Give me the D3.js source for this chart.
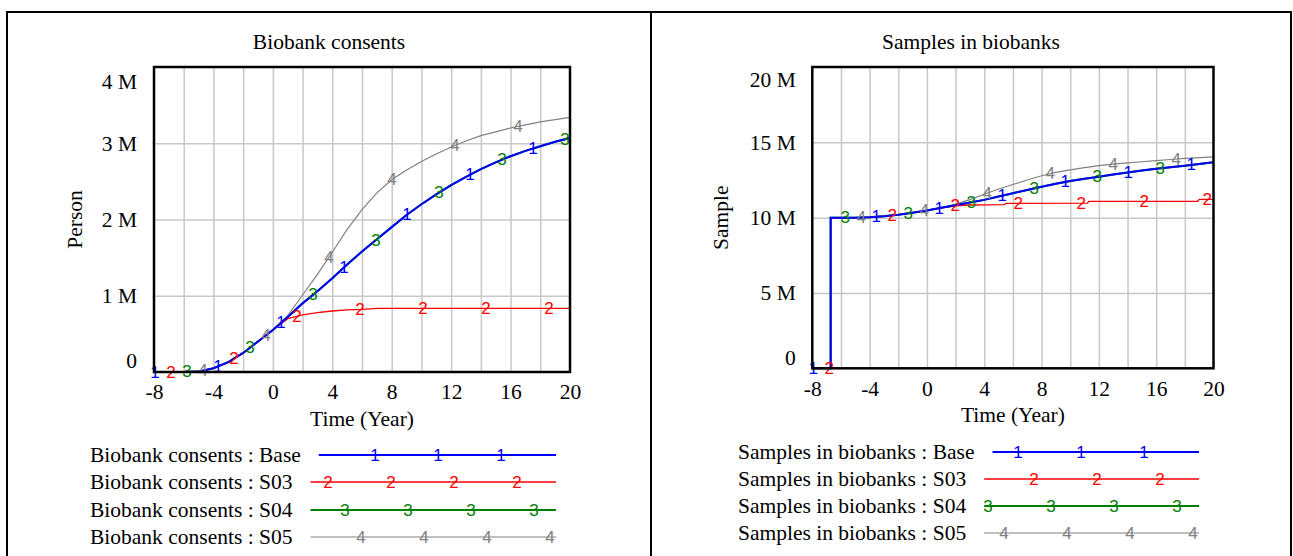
<!DOCTYPE html>
<html>
<head>
<meta charset="utf-8">
<script src="https://cdn.jsdelivr.net/npm/d3@7"></script>
<style>
  body { margin: 0; background: #fff; }
  svg text { font-family: "Liberation Serif", "Times New Roman", serif; fill: #000; }
  svg text.mark { font-family: "Liberation Sans", Arial, sans-serif; }
</style>
</head>
<body>
<svg id="chart" width="1293" height="556"></svg>
<script>
// ---- data (millions) ----
var seriesNames = ["Base", "S03", "S04", "S05"];
var xTicks = [-8, -4, 0, 4, 8, 12, 16, 20];
var xGrid = [-6, -4, -2, 0, 2, 4, 6, 8, 10, 12, 14, 16, 18];

var consentTicks = [0, 1, 2, 3, 4];
var consentTickLabels = ["0", "1 M", "2 M", "3 M", "4 M"];
var consentTime = [-8, -7, -6, -5, -4, -3, -2, -1, 0, 1, 2, 3, 4, 5, 6, 7, 8, 9, 10, 11, 12, 13, 14, 15, 16, 17, 18, 19, 20];
var consentBase = [0, 0, 0, 0.005, 0.05, 0.13, 0.25, 0.40, 0.55, 0.72, 0.90, 1.06, 1.23, 1.41, 1.58, 1.74, 1.90, 2.06, 2.20, 2.33, 2.45, 2.56, 2.66, 2.75, 2.83, 2.90, 2.96, 3.02, 3.07];
var consentS03 = [0, 0, 0, 0.005, 0.05, 0.13, 0.25, 0.40, 0.55, 0.70, 0.75, 0.78, 0.80, 0.815, 0.82, 0.835, 0.835, 0.835, 0.835, 0.835, 0.835, 0.835, 0.835, 0.835, 0.835, 0.835, 0.835, 0.835, 0.835];
var consentS04 = [0, 0, 0, 0.005, 0.05, 0.13, 0.25, 0.40, 0.55, 0.72, 0.90, 1.06, 1.23, 1.41, 1.58, 1.74, 1.90, 2.06, 2.20, 2.33, 2.45, 2.56, 2.66, 2.75, 2.83, 2.90, 2.96, 3.02, 3.07];
var consentS05 = [0, 0, 0, 0.005, 0.05, 0.13, 0.25, 0.40, 0.55, 0.74, 1.01, 1.28, 1.57, 1.87, 2.13, 2.35, 2.52, 2.65, 2.76, 2.86, 2.95, 3.03, 3.10, 3.15, 3.20, 3.24, 3.28, 3.31, 3.34];

var sampleTicks = [0, 5, 10, 15, 20];
var sampleTickLabels = ["0", "5 M", "10 M", "15 M", "20 M"];
var sampleTime = [-8, -6.72, -6.72, -6, -5, -4, -3, -2, -1, 0, 1, 2, 3, 4, 5, 6, 7, 8, 9, 10, 11, 12, 13, 14, 15, 16, 17, 18, 19, 20];
var sampleBase = [0, 0, 10, 10, 10, 10.03, 10.1, 10.2, 10.33, 10.48, 10.65, 10.82, 11.0, 11.18, 11.4, 11.62, 11.84, 12.05, 12.25, 12.43, 12.58, 12.72, 12.86, 13.0, 13.13, 13.25, 13.35, 13.45, 13.56, 13.67];
var sampleS04 = [0, 0, 10, 10, 10, 10.03, 10.1, 10.2, 10.33, 10.48, 10.65, 10.82, 11.0, 11.18, 11.4, 11.62, 11.84, 12.05, 12.25, 12.43, 12.58, 12.72, 12.86, 13.0, 13.13, 13.25, 13.35, 13.45, 13.56, 13.67];
var sampleS05 = [0, 0, 10, 10, 10, 10.03, 10.1, 10.2, 10.33, 10.48, 10.65, 10.9, 11.2, 11.55, 11.9, 12.2, 12.5, 12.78, 13.0, 13.17, 13.32, 13.45, 13.55, 13.63, 13.71, 13.78, 13.86, 13.93, 13.99, 14.04];
var sampleS03Time = [-8, -6.72, -6.72, -6, -5, -4, -3, -2, -1, 0, 1, 2, 3, 5.4, 5.5, 11.2, 11.3, 18.9, 19.0, 20];
var sampleS03 = [0, 0, 10, 10, 10, 10.03, 10.1, 10.2, 10.33, 10.48, 10.65, 10.78, 10.84, 10.86, 10.95, 10.96, 11.08, 11.09, 11.21, 11.21];

// ---- styles ----
var colors = ["#0000ff", "#ff0000", "#008000", "#808080"];
var widths = [2, 1.3, 2, 1.2];
var markStep = 63, markShift = 16;
var legendOffsets = [55, 39, 22, 6];
var fontSize = "21.5px";

var svg = d3.select("#chart");

var panels = [
  {
    box: [7, 12, 651, 600], title: "Biobank consents", yTitle: "Person", yTitleX: 75,
    plot: [154, 67, 570, 372], yMax: 4, ticks: consentTicks, tickLabels: consentTickLabels,
    yPad: 17, topDy: 15, botDy: -11,
    series: [
      {time: consentTime, values: consentBase},
      {time: consentTime, values: consentS03},
      {time: consentTime, values: consentS04},
      {time: consentTime, values: consentS05}
    ],
    legendName: "Biobank consents", legendX: 90, legendRows: [455, 482, 510, 537], legendEnd: 556
  },
  {
    box: [651, 12, 1291, 600], title: "Samples in biobanks", yTitle: "Sample", yTitleX: 721,
    plot: [812.3, 67, 1213.5, 368.3], yMax: 20, ticks: sampleTicks, tickLabels: sampleTickLabels,
    yPad: 16.5, topDy: 13, botDy: -11,
    series: [
      {time: sampleTime, values: sampleBase},
      {time: sampleS03Time, values: sampleS03},
      {time: sampleTime, values: sampleS04},
      {time: sampleTime, values: sampleS05}
    ],
    legendName: "Samples in biobanks", legendX: 738, legendRows: [452, 479, 506, 533], legendEnd: 1199
  }
];

panels.forEach(drawPanel);

function valueAt(ts, vs, t) {
  for (var i = 0; i < ts.length - 1; i++) {
    if (ts[i + 1] > ts[i] && t >= ts[i] && t <= ts[i + 1]) {
      var f = (t - ts[i]) / (ts[i + 1] - ts[i]);
      return vs[i] + f * (vs[i + 1] - vs[i]);
    }
  }
  return vs[vs.length - 1];
}

function drawPanel(p) {
  var g = svg.append("g");
  var left = p.plot[0], top = p.plot[1], right = p.plot[2], bottom = p.plot[3];

  g.append("rect")
    .attr("x", p.box[0]).attr("y", p.box[1])
    .attr("width", p.box[2] - p.box[0]).attr("height", p.box[3] - p.box[1])
    .attr("fill", "none").attr("stroke", "#000").attr("stroke-width", 2);

  g.append("text")
    .attr("x", (p.box[0] + p.box[2]) / 2).attr("y", 42)
    .attr("text-anchor", "middle").attr("dominant-baseline", "central")
    .style("font-size", fontSize)
    .text(p.title);

  var x = d3.scaleLinear().domain([-8, 20]).range([left, right]);
  var y = d3.scaleLinear().domain([0, p.yMax]).range([bottom, top]);

  // grid
  var gx = g.append("g")
    .attr("transform", "translate(0," + bottom + ")")
    .call(d3.axisBottom(x).tickValues(xGrid).tickSize(-(bottom - top)).tickFormat(""));
  var gy = g.append("g")
    .attr("transform", "translate(" + left + ",0)")
    .call(d3.axisLeft(y).tickValues(p.ticks.slice(1, -1)).tickSize(-(right - left)).tickFormat(""));
  [gx, gy].forEach(function(a) {
    a.select(".domain").remove();
    a.selectAll("line").attr("stroke", "#c8c8c8").attr("stroke-width", 1.5);
  });

  // axis labels
  var ax = g.append("g")
    .attr("transform", "translate(0," + bottom + ")")
    .call(d3.axisBottom(x).tickValues(xTicks).tickSize(0).tickPadding(12).tickFormat(function(d) { return String(d); }));
  ax.select(".domain").remove();
  ax.selectAll("text").style("font-size", fontSize).style("font-family", "Liberation Serif");

  var ay = g.append("g")
    .attr("transform", "translate(" + left + ",0)")
    .call(d3.axisLeft(y).tickValues(p.ticks).tickSize(0).tickPadding(p.yPad)
      .tickFormat(function(d, i) { return p.tickLabels[i]; }));
  ay.select(".domain").remove();
  ay.selectAll("text").style("font-size", fontSize).style("font-family", "Liberation Serif")
    .attr("dy", function(d, i) {
      if (i === 0) return (p.botDy + 6.8) + "px";
      if (i === p.ticks.length - 1) return (p.topDy + 6.8) + "px";
      return "0.32em";
    });

  g.append("text")
    .attr("x", (left + right) / 2).attr("y", bottom + 47)
    .attr("text-anchor", "middle").attr("dominant-baseline", "central")
    .style("font-size", fontSize)
    .text("Time (Year)");

  g.append("text")
    .attr("transform", "translate(" + p.yTitleX + "," + (top + bottom) / 2 + ") rotate(-90)")
    .attr("text-anchor", "middle").attr("dominant-baseline", "central")
    .style("font-size", fontSize)
    .text(p.yTitle);

  // lines, series 4 first so Base sits on top
  var line = d3.line()
    .x(function(d) { return x(d[0]); })
    .y(function(d) { return y(d[1]); });

  var order = [3, 2, 1, 0];
  order.forEach(function(k) {
    var s = p.series[k];
    var pts = s.time.map(function(t, i) { return [t, s.values[i]]; });
    g.append("path")
      .attr("d", line(pts))
      .attr("fill", "none")
      .attr("stroke", colors[k])
      .attr("stroke-width", widths[k]);
  });

  // number markers along each line
  order.forEach(function(k) {
    var s = p.series[k];
    for (var px = left + 1 + k * markShift; px <= right + 0.5; px += markStep) {
      var t = x.invert(px);
      g.append("text")
        .attr("class", "mark")
        .attr("x", px).attr("y", y(valueAt(s.time, s.values, t)))
        .attr("text-anchor", "middle").attr("dominant-baseline", "central")
        .style("font-size", "17px")
        .style("fill", colors[k])
        .text(k + 1);
    }
  });

  // legend
  seriesNames.forEach(function(name, k) {
    var ry = p.legendRows[k];
    var label = g.append("text")
      .attr("x", p.legendX).attr("y", ry)
      .attr("dominant-baseline", "central")
      .style("font-size", fontSize)
      .text(p.legendName + " : " + name);
    var start = p.legendX + label.node().getComputedTextLength() + 18;
    g.append("line")
      .attr("x1", start).attr("x2", p.legendEnd)
      .attr("y1", ry).attr("y2", ry)
      .attr("stroke", colors[k])
      .attr("stroke-width", widths[k]);
    for (var mx = p.legendEnd - legendOffsets[k]; mx >= start; mx -= markStep) {
      g.append("text")
        .attr("class", "mark")
        .attr("x", mx).attr("y", ry)
        .attr("text-anchor", "middle").attr("dominant-baseline", "central")
        .style("font-size", "17px")
        .style("fill", colors[k])
        .text(k + 1);
    }
  });

  // plot frame on top
  g.append("rect")
    .attr("x", left).attr("y", top)
    .attr("width", right - left).attr("height", bottom - top)
    .attr("fill", "none").attr("stroke", "#000").attr("stroke-width", 2.5);
}
</script>
</body>
</html>
